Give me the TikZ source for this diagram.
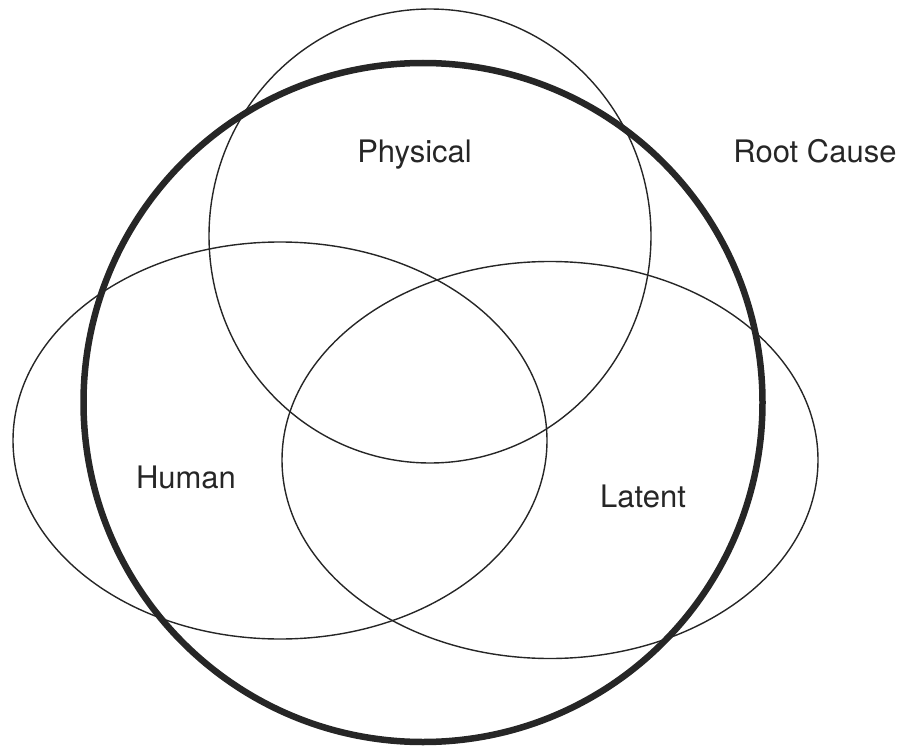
\documentclass[tikz,border=0pt]{standalone}
\usepackage{fontspec}
\setmainfont{TeX Gyre Heros}
\usepackage{tikz}
\definecolor{ink}{HTML}{262626}
\tikzset{
  setline/.style={draw=ink, line width=1.4pt},
  rootline/.style={draw=ink, line width=6.5pt},
  setlabel/.style={
    anchor=base, inner sep=0pt, text=ink,
    font=\fontsize{31}{37}\selectfont
  },
}
\begin{document}
\begin{tikzpicture}[x=1pt, y=-1pt]
  \useasboundingbox (0,0) rectangle (905,749);

  % Sets
  \draw[setline] (430,236) ellipse [x radius=221, y radius=227];
  \draw[setline] (280,440.5) ellipse [x radius=267, y radius=198.5];
  \draw[setline] (550,460) ellipse [x radius=268, y radius=198.5];

  % Root cause boundary
  \draw[rootline] (423,402.5) circle [radius=339.5];

  % Labels
  \node[setlabel] (physical) at (414.5,163) {Physical};
  \node[setlabel] (rootcause) at (815,162) {Root Cause};
  \node[setlabel] (human) at (186,488) {Human};
  \node[setlabel] (latent) at (643,507) {Latent};
\end{tikzpicture}
\end{document}
